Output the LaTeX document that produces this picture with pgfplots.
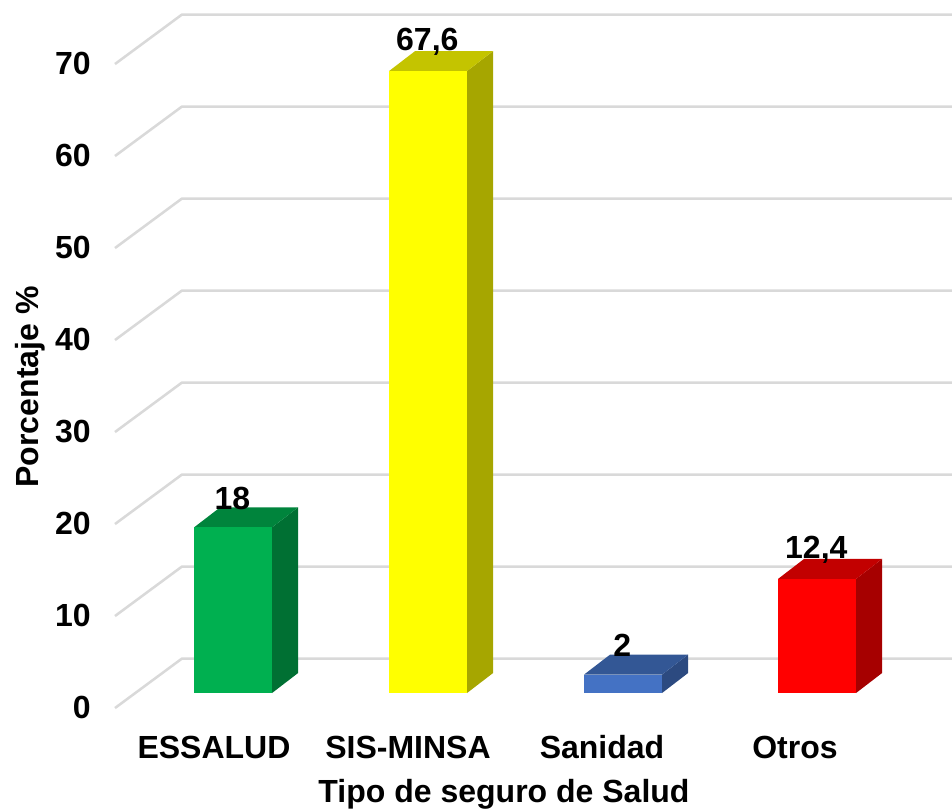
\documentclass[border=0pt]{standalone}
\usepackage{fontspec}
\setmainfont{Liberation Sans}
\usepackage{pgfplots}
\pgfplotsset{compat=1.18}
\definecolor{gridc}{HTML}{D9D9D9}
\definecolor{gF}{HTML}{00B050}\definecolor{gS}{HTML}{007033}\definecolor{gT}{HTML}{00843C}
\definecolor{yF}{HTML}{FFFF00}\definecolor{yS}{HTML}{A6A600}\definecolor{yT}{HTML}{C4C400}
\definecolor{bF}{HTML}{4472C4}\definecolor{bS}{HTML}{2C4A80}\definecolor{bT}{HTML}{335795}
\definecolor{rF}{HTML}{FF0000}\definecolor{rS}{HTML}{A60000}\definecolor{rT}{HTML}{C20000}
\pgfplotsset{
  grid wall/.style={draw=gridc,line width=1.9pt,no marks,forget plot},
  bar front/.style={ybar,bar width=58.5pt,bar shift=0pt,draw=none,fill=#1,forget plot,
    nodes near coords,
    every node near coord/.style={anchor=center,yshift=21.75pt,inner sep=0pt,text=black,
      font=\fontsize{24}{28}\bfseries,xshift=-0.5pt},
    /pgf/number format/use comma,/pgf/number format/assume math mode=true},
  bar face/.style={draw=none,fill=#1,no marks,forget plot},
}
\begin{document}
\begin{tikzpicture}[x=0.75pt,y=0.75pt]
\path[use as bounding box] (0,0) rectangle (952,812);
\begin{axis}[
  at={(115,113)},anchor=south west,
  scale only axis,width=627.75pt,height=519.75pt,
  xmin=115,xmax=952,ymin=-1.6304,ymax=73.696,
  axis lines=none,clip=false,
  ]
% side-wall diagonals and back-wall lines, one path for each level
\addplot[grid wall] coordinates {(115,-1.63)(182,3.75)(952,3.75)};
\addplot[grid wall] coordinates {(115,8.37)(182,13.75)(952,13.75)};
\addplot[grid wall] coordinates {(115,18.37)(182,23.75)(952,23.75)};
\addplot[grid wall] coordinates {(115,28.37)(182,33.75)(952,33.75)};
\addplot[grid wall] coordinates {(115,38.37)(182,43.75)(952,43.75)};
\addplot[grid wall] coordinates {(115,48.37)(182,53.75)(952,53.75)};
\addplot[grid wall] coordinates {(115,58.37)(182,63.75)(952,63.75)};
\addplot[grid wall] coordinates {(115,68.37)(182,73.75)(952,73.75)};
% ESSALUD
\addplot[bar face=gS] coordinates {(272,0)(298,2.17)(298,20.17)(272,18)} -- cycle;
\addplot[bar face=gT] coordinates {(194,18)(220,20.17)(298,20.17)(272,18)} -- cycle;
\addplot[bar front=gF] coordinates {(233,18)};
% SIS-MINSA
\addplot[bar face=yS] coordinates {(467,0)(493,2.17)(493,69.77)(467,67.6)} -- cycle;
\addplot[bar face=yT] coordinates {(389,67.6)(415,69.77)(493,69.77)(467,67.6)} -- cycle;
\addplot[bar front=yF] coordinates {(428,67.6)};
% Sanidad
\addplot[bar face=bS] coordinates {(662,0)(688,2.17)(688,4.17)(662,2)} -- cycle;
\addplot[bar face=bT] coordinates {(584,2)(610,4.17)(688,4.17)(662,2)} -- cycle;
\addplot[bar front=bF] coordinates {(623,2)};
% Otros
\addplot[bar face=rS] coordinates {(856,0)(882,2.17)(882,14.57)(856,12.4)} -- cycle;
\addplot[bar face=rT] coordinates {(778,12.4)(804,14.57)(882,14.57)(856,12.4)} -- cycle;
\addplot[bar front=rF] coordinates {(817,12.4)};
\end{axis}
\begin{axis}[
  at={(115,113)},anchor=south west,
  scale only axis,width=627.75pt,height=519.75pt,
  xmin=115,xmax=952,ymin=0,ymax=75.326,
  axis x line*=bottom,axis y line*=left,
  x axis line style={draw=none},y axis line style={draw=none},
  major tick length=0pt,
  xtick={214,408,602,795},
  xticklabels={ESSALUD,SIS-MINSA,Sanidad,Otros},
  ytick={0,10,20,30,40,50,60,70},
  tick label style={font=\fontsize{24}{28}\bfseries},
  /pgf/number format/assume math mode=true,
  yticklabel style={anchor=east,xshift=-18pt,yshift=0.5pt,inner sep=0pt},
  xticklabel style={anchor=center,yshift=-29.25pt,inner sep=0pt},
  ]
\addplot[draw=none,no marks,forget plot] coordinates {(115,0)(952,70)};
\end{axis}
\node[font=\fontsize{24}{28}\bfseries] at (504,18) {Tipo de seguro de Salud};
\node[font=\fontsize{24}{28}\bfseries,rotate=90] at (30,425) {Porcentaje \%};
\end{tikzpicture}
\end{document}
